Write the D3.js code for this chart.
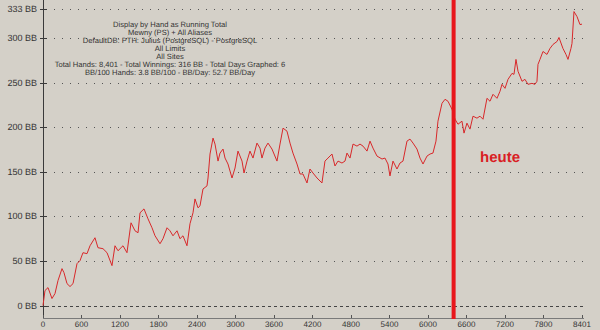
<!DOCTYPE html>
<html>
<head>
<meta charset="utf-8">
<script src="https://cdn.jsdelivr.net/npm/d3@7"></script>
<style>
  body { margin: 0; background: #d4d0c8; }
  svg { display: block; font-family: "Liberation Sans", Arial, sans-serif; text-rendering: geometricPrecision; }
</style>
</head>
<body>
<div id="chart"></div>
<script>
// running total (BB), by hand number
const hands = [0, 31, 78, 140, 187, 234, 296, 327, 374, 421, 468, 530, 577, 623, 686, 733, 810, 857, 935, 998,
  1075, 1122, 1169, 1247, 1309, 1372, 1434, 1481, 1512, 1574, 1637, 1699, 1746, 1824, 1870, 1933, 1979, 2026, 2089, 2135,
  2182, 2244, 2291, 2338, 2369, 2416, 2447, 2494, 2556, 2572, 2603, 2650, 2681, 2728, 2759, 2806, 2837, 2883, 2946, 2993,
  3039, 3102, 3133, 3180, 3226, 3273, 3335, 3382, 3413, 3460, 3507, 3569, 3647, 3694, 3741, 3803, 3850, 3896, 3959, 4006,
  4052, 4115, 4161, 4208, 4271, 4348, 4395, 4442, 4504, 4551, 4598, 4660, 4707, 4738, 4785, 4832, 4894, 4941, 4988, 5050,
  5097, 5143, 5206, 5284, 5330, 5377, 5408, 5455, 5517, 5564, 5611, 5673, 5720, 5767, 5829, 5876, 5923, 5985, 6032, 6078,
  6125, 6156, 6219, 6266, 6312, 6375, 6422, 6468, 6530, 6562, 6608, 6655, 6702, 6764, 6811, 6858, 6920, 6967, 7014, 7076,
  7123, 7154, 7201, 7248, 7310, 7341, 7372, 7404, 7466, 7512, 7559, 7621, 7668, 7699, 7715, 7746, 7793, 7855, 7902, 7949,
  8011, 8042, 8104, 8151, 8183, 8229, 8245, 8276, 8323, 8370, 8401]
const winnings = [0, 16.8, 20.1, 7.8, 13.4, 28, 41.4, 36.9, 24.6, 21.3, 24.6, 47, 50.4, 59.3, 58.2, 67.1, 76.1, 64.9, 63.8, 59.3,
  44.8, 67.1, 61.5, 67.1, 59.3, 92.9, 83.9, 81.7, 104.1, 108.5, 97.3, 87.3, 78.3, 69.4, 75, 87.3, 83.9, 78.3, 83.9, 75,
  78.3, 67.1, 91.8, 104.1, 119.7, 109.7, 111.9, 130.9, 134.3, 143.2, 170.1, 188, 181.3, 162.2, 171.2, 175.7, 165.6, 158.9, 143.2, 154.4,
  173.4, 162.2, 148.8, 162.2, 173.4, 165.6, 182.4, 176.8, 165.6, 176.8, 182.4, 175.7, 162.2, 181.3, 199.2, 195.8, 182.4, 171.2, 158.9, 147.7,
  147.7, 137.6, 153.3, 148.8, 143.2, 137.6, 162.2, 165.6, 170.1, 156.7, 162.2, 160, 162.2, 171.2, 165.6, 181.3, 179, 181.3, 179, 173.4,
  184.6, 176.8, 167.8, 164.5, 165.6, 158.9, 145.5, 162.2, 153.3, 160, 162.2, 184.6, 186.9, 182.4, 175.7, 165.6, 158.9, 167.8, 170.1, 171.2,
  184.6, 207, 227.1, 231.6, 229.4, 220.4, 209.2, 203.6, 207, 193.6, 204.8, 198.1, 212.6, 210.4, 212.6, 209.2, 232.7, 229.4, 237.2, 232.7,
  240.6, 248.4, 243.9, 254, 260.7, 259.6, 276.4, 263, 251.8, 254, 248.4, 249.5, 248.4, 251.8, 270.8, 276.4, 285.3, 282, 288.7, 293.2,
  296.5, 301, 288.7, 282, 276.4, 288.7, 294.3, 330.1, 324.5, 315.5, 316]

const yTicks = [0, 50, 100, 150, 200, 250, 300, 333]
const xTicks = [0, 600, 1200, 1800, 2400, 3000, 3600, 4200, 4800, 5400, 6000, 6600, 7200, 7800, 8401]
const todayHand = 6400
const todayLabel = "heute"
const infoLines = [
  "Display by Hand as Running Total",
  "Mewny (PS) + All Aliases",
  "DefaultDB: PTH: Julius (PostgreSQL) - PostgreSQL",
  "All Limits",
  "All Sites",
  "Total Hands: 8,401 - Total Winnings: 316 BB - Total Days Graphed: 6",
  "BB/100 Hands: 3.8 BB/100 - BB/Day: 52.7 BB/Day"
]

const width = 600, height = 330
const svg = d3.select("#chart").append("svg").attr("width", width).attr("height", height)

const x = d3.scaleLinear().domain([0, 8401]).range([43, 582])
const y = d3.scaleLinear().domain([0, 333]).range([305.5, 9])
const axisY = 318

// grid
svg.append("g").selectAll("line").data(yTicks).join("line")
  .attr("x1", 46).attr("x2", 584)
  .attr("y1", d => Math.round(y(d)) + 0.5).attr("y2", d => Math.round(y(d)) + 0.5)
  .attr("stroke", d => d == 0 ? "#444" : "#555")
  .attr("stroke-dasharray", d => d == 0 ? "3,3" : "1,7")

// y axis
svg.append("line").attr("x1", 43.5).attr("x2", 43.5).attr("y1", 0).attr("y2", axisY)
  .attr("stroke", "#3a3a3a")
svg.append("g").selectAll("line").data(yTicks).join("line")
  .attr("x1", 40).attr("x2", 47)
  .attr("y1", d => Math.round(y(d)) + 0.5).attr("y2", d => Math.round(y(d)) + 0.5)
  .attr("stroke", "#3a3a3a")
svg.append("g").selectAll("text").data(yTicks).join("text")
  .attr("x", 37).attr("y", d => y(d) + 3)
  .attr("text-anchor", "end").attr("font-size", "9px").attr("fill", "#333")
  .text(d => d + " BB")

// x axis
svg.append("line").attr("x1", 43).attr("x2", 584).attr("y1", axisY + 0.5).attr("y2", axisY + 0.5)
  .attr("stroke", "#7a7a7a")
svg.append("g").selectAll("line").data(xTicks).join("line")
  .attr("x1", d => Math.round(x(d)) + 0.5).attr("x2", d => Math.round(x(d)) + 0.5)
  .attr("y1", axisY - 3).attr("y2", axisY)
  .attr("stroke", "#555")
svg.append("g").selectAll("text").data(xTicks).join("text")
  .attr("x", d => x(d)).attr("y", 327)
  .attr("text-anchor", "middle").attr("font-size", "8px").attr("fill", "#333")
  .text(d => d)

// info text
svg.append("g").selectAll("text").data(infoLines).join("text")
  .attr("x", 170).attr("y", (d, i) => 27 + i * 8)
  .attr("text-anchor", "middle").attr("font-size", "7.6px").attr("fill", "#333")
  .text(d => d)

// running total line
let line = d3.line().x((d, i) => x(hands[i])).y(d => y(d))
svg.append("path").datum(winnings).attr("d", line)
  .attr("fill", "none").attr("stroke", "#d8282a").attr("stroke-width", 1)

// marker for today
svg.append("line").attr("x1", x(todayHand)).attr("x2", x(todayHand)).attr("y1", 0).attr("y2", axisY + 1)
  .attr("stroke", "#e8161c").attr("stroke-width", 4)
svg.append("text").attr("x", 480).attr("y", 162)
  .attr("font-size", "15px").attr("font-weight", "bold").attr("fill", "#d91e24")
  .text(todayLabel)
</script>
</body>
</html>
